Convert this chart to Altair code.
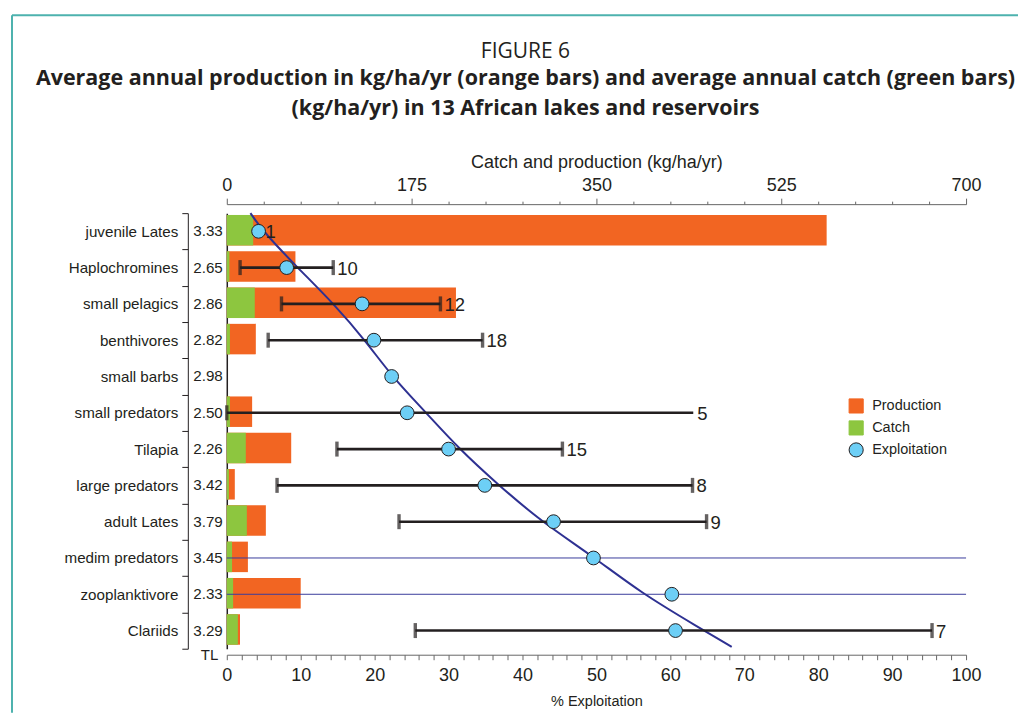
import altair as alt
import pandas as pd

# ---------------- data ----------------
names = ["juvenile Lates", "Haplochromines", "small pelagics", "benthivores",
         "small barbs", "small predators", "Tilapia", "large predators",
         "adult Lates", "medim predators", "zooplanktivore", "Clariids"]
trophic_level = ["3.33", "2.65", "2.86", "2.82", "2.98", "2.50",
                 "2.26", "3.42", "3.79", "3.45", "2.33", "3.29"]
production = [568, 65, 217, 27.5, None, 24, 61, 7.6, 37, 20, 70, 12.5]   # kg/ha/yr
catch = [25, 2.5, 26.5, 3, None, 3, 18, 2, 19, 5, 6, 10.5]                # kg/ha/yr
exploitation = [4.3, 8.1, 18.3, 19.9, 22.3, 24.4, 30.0, 34.9, 44.2, 49.6, 60.2, 60.7]  # %
expl_low = [None, 1.8, 7.4, 5.6, None, 0.0, 14.9, 6.8, 23.3, 0, 0, 25.5]
expl_high = [None, 14.4, 28.9, 34.6, None, 63.1, 45.4, 63.0, 64.9, 100, 100, 95.4]
sample_n = ["1", "10", "12", "18", "", "5", "15", "8", "9", "", "", "7"]
full_range = ["medim predators", "zooplanktivore"]
open_high = ["small predators"]

curve_x = [3.2, 4.9, 9.5, 14.5, 18.9, 22.3, 26.8, 31.3, 36.7, 42.5, 49.5, 56.0, 63.9, 68.3]
curve_y = [0.0, 0.5, 1.49, 2.5, 3.55, 4.49, 5.46, 6.47, 7.48, 8.49, 9.45, 10.46, 11.42, 11.95]

legend_items = ["Production", "Catch", "Exploitation"]

# ---------------- styling ----------------
ORANGE = "#F26522"
GREEN = "#8DC63F"
BLUE = "#6DCFF6"
NAVY = "#2E3192"
INK = "#231F20"
TEAL = "#4DB2AE"
FONT = "Liberation Sans"

# ---------------- tables ----------------
df = pd.DataFrame({"name": names, "tl": trophic_level, "prod": production,
                   "catch": catch, "expl": exploitation, "lo": expl_low,
                   "hi": expl_high, "n": sample_n})
df["row"] = range(len(names))
df["pos"] = df["row"] + 0.5
df["top"] = df["row"] + 0.05
df["bottom"] = df["row"] + 0.89
df["zero"] = 0.0
df["series"] = "Exploitation"

bars_df = df[df["prod"].notna()]
err_df = df[df["lo"].notna() & ~df["name"].isin(full_range)]
thin_df = df[df["name"].isin(full_range)]
caps = []
for _, r in err_df.iterrows():
    caps.append({"pos": r["pos"], "x": r["lo"]})
    if r["name"] not in open_high:
        caps.append({"pos": r["pos"], "x": r["hi"]})
caps_df = pd.DataFrame(caps)
lab_hi_df = df[(df["n"] != "") & df["hi"].notna()]
lab_pt_df = df[(df["n"] != "") & df["hi"].isna()]
curve_df = pd.DataFrame({"cx": curve_x, "cy": curve_y, "ord": range(len(curve_x))})

ysc = alt.Scale(domain=[0, 12], reverse=True, nice=False, zero=False)
kg_sc = alt.Scale(domain=[0, 700], nice=False, zero=True)
pc_sc = alt.Scale(domain=[0, 100], nice=False, zero=True)

name_expr = "[" + ",".join("'" + s + "'" for s in names) + "][floor(datum.value)]"

# ---------------- layers ----------------
prod_layer = alt.Chart(bars_df).mark_rect(color=ORANGE).encode(
    x=alt.X("zero:Q", scale=kg_sc, axis=alt.Axis(
        orient="top", offset=9, values=list(range(0, 701, 35)),
        labelExpr="datum.value % 175 === 0 ? datum.label : ''",
        tickSize={"condition": {"test": "datum.value % 175 === 0", "value": 6}, "value": 3},
        title="Catch and production (kg/ha/yr)", titleFontSize=18, titleFont=FONT,
        titleFontWeight="normal", titleColor=INK, titlePadding=5,
        labelFont=FONT, labelFontSize=18, labelColor=INK, labelPadding=4,
        labelFlush=False, domainColor="#666666", tickColor="#666666", grid=False)),
    x2="prod:Q",
    y=alt.Y("top:Q", scale=ysc, axis=alt.Axis(
        orient="left", offset=39, values=[i + 0.5 for i in range(len(names))],
        labelExpr=name_expr, ticks=False, tickSize=0, domain=False, grid=False,
        labelFont=FONT, labelFontSize=15.2, labelColor=INK, labelPadding=10,
        title=None)),
    y2="bottom:Q",
)

catch_layer = alt.Chart(bars_df).mark_rect(color=GREEN).encode(
    x=alt.X("zero:Q", scale=kg_sc, axis=None),
    x2="catch:Q",
    y=alt.Y("top:Q", scale=ysc, axis=alt.Axis(
        orient="left", offset=39, values=list(range(0, 13)), labels=False,
        ticks=True, tickSize=6, tickColor=INK, domain=True, domainColor=INK,
        grid=False, title=None)),
    y2="bottom:Q",
)

tl_layer = alt.Chart(df).mark_text(
    align="right", baseline="middle", font=FONT, fontSize=15.2, color=INK, dx=-4
).encode(
    x=alt.value(0),
    y=alt.Y("pos:Q", scale=ysc, axis=alt.Axis(
        orient="left", offset=0, labels=False, ticks=False, domain=True,
        domainColor=INK, domainWidth=1.5, grid=False, title="TL",
        titleAngle=0, titleAlign="right", titleBaseline="middle",
        titleX=-9, titleY=442, titleFont=FONT, titleFontSize=15,
        titleFontWeight="normal", titleColor=INK)),
    text="tl:N",
)

curve_layer = alt.Chart(curve_df).mark_line(color=NAVY, strokeWidth=2, interpolate="basis").encode(
    x=alt.X("cx:Q", scale=pc_sc, axis=None),
    y=alt.Y("cy:Q", scale=ysc, axis=None),
    order="ord:Q",
)

thin_layer = alt.Chart(thin_df).mark_rule(color="#3A3D9C", strokeWidth=1).encode(
    x=alt.X("lo:Q", scale=pc_sc, axis=None),
    x2="hi:Q",
    y=alt.Y("pos:Q", scale=ysc, axis=None),
)

err_layer = alt.Chart(err_df).mark_rule(color=INK, strokeWidth=2.6).encode(
    x=alt.X("lo:Q", scale=pc_sc, axis=alt.Axis(
        orient="bottom", offset=6, values=list(range(0, 101, 2)),
        labelExpr="datum.value % 10 === 0 ? datum.label : ''",
        tickSize=5, tickColor="#666666", domainColor="#666666",
        title="% Exploitation", titleFont=FONT, titleFontSize=14.5,
        titleFontWeight="normal", titleColor=INK, titlePadding=10,
        labelFont=FONT, labelFontSize=18, labelColor=INK, labelPadding=7,
        labelFlush=False, grid=False)),
    x2="hi:Q",
    y=alt.Y("pos:Q", scale=ysc, axis=None),
)

cap_layer = alt.Chart(caps_df).mark_tick(color=INK, thickness=3.4, size=15, orient="vertical").encode(
    x=alt.X("x:Q", scale=pc_sc, axis=None),
    y=alt.Y("pos:Q", scale=ysc, axis=None),
)

leg = dict(title=None, orient="none", legendX=622, legendY=185, labelFont=FONT,
           labelFontSize=14.5, labelColor=INK, symbolSize=200, rowPadding=2,
           labelOffset=8, symbolStrokeWidth=1)
point_layer = alt.Chart(df).mark_point(filled=True, size=190, strokeWidth=1, opacity=1).encode(
    x=alt.X("expl:Q", scale=pc_sc, axis=None),
    y=alt.Y("pos:Q", scale=ysc, axis=None),
    color=alt.Color("series:N", scale=alt.Scale(domain=legend_items, range=[ORANGE, GREEN, BLUE]),
                    legend=alt.Legend(**leg)),
    shape=alt.Shape("series:N", scale=alt.Scale(domain=legend_items, range=["square", "square", "circle"]),
                    legend=alt.Legend(**leg)),
    stroke=alt.Stroke("series:N", scale=alt.Scale(domain=legend_items, range=[ORANGE, GREEN, INK]),
                      legend=alt.Legend(**leg)),
)

nlab_hi = alt.Chart(lab_hi_df).mark_text(
    align="left", baseline="middle", font=FONT, fontSize=18.5, color=INK, dx=4, dy=1
).encode(
    x=alt.X("hi:Q", scale=pc_sc, axis=None),
    y=alt.Y("pos:Q", scale=ysc, axis=None),
    text="n:N",
)
nlab_pt = alt.Chart(lab_pt_df).mark_text(
    align="left", baseline="middle", font=FONT, fontSize=18.5, color=INK, dx=7, dy=1
).encode(
    x=alt.X("expl:Q", scale=pc_sc, axis=None),
    y=alt.Y("pos:Q", scale=ysc, axis=None),
    text="n:N",
)

frame_df = pd.DataFrame({"k": [0]})
frame_left = alt.Chart(frame_df).mark_rule(color=TEAL, strokeWidth=2).encode(
    x=alt.value(-215), y=alt.value(-198), y2=alt.value(500))
frame_top = alt.Chart(frame_df).mark_rule(color=TEAL, strokeWidth=2).encode(
    x=alt.value(-215), x2=alt.value(792), y=alt.value(-198))

chart = alt.layer(
    prod_layer, catch_layer, tl_layer, thin_layer, curve_layer, err_layer,
    cap_layer, point_layer, nlab_hi, nlab_pt, frame_left, frame_top,
).resolve_scale(
    x="independent"
).resolve_axis(
    y="independent"
).properties(
    width=740, height=436,
    padding={"left": 3, "top": 6, "right": 0, "bottom": 0},
    title=alt.TitleParams(
        text="FIGURE 6",
        subtitle=["Average annual production in kg/ha/yr (orange bars) and average annual catch (green bars)",
                  "(kg/ha/yr) in 13 African lakes and reservoirs"],
        font="Open Sans", fontSize=21, fontWeight="normal", color=INK,
        subtitleFont="Open Sans", subtitleFontSize=21.5, subtitleFontWeight="bold",
        subtitleColor=INK, subtitleLineHeight=30, subtitlePadding=6,
        anchor="middle", frame="group", dx=-71, dy=105, offset=0,
    ),
).configure_view(stroke=None)

chart.save("out.html", embed_options={"renderer": "svg", "actions": False})
